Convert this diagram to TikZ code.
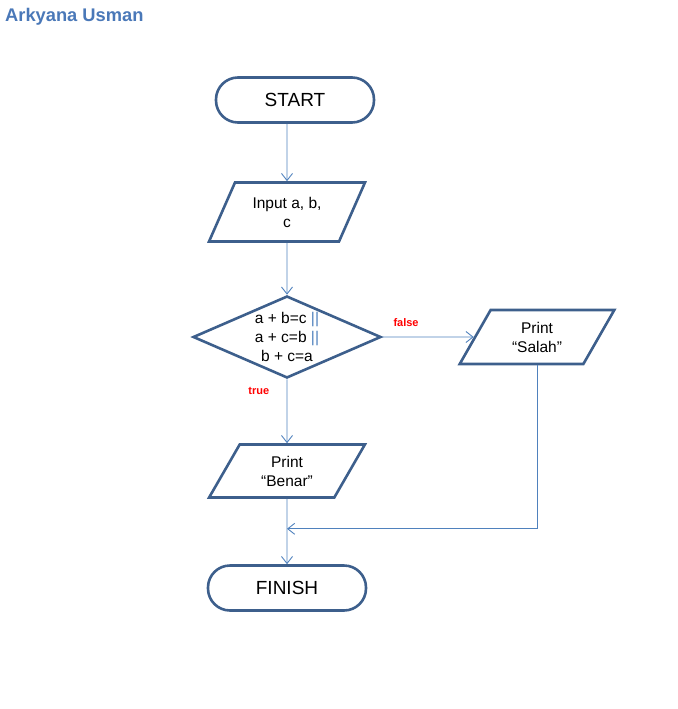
\documentclass[tikz,border=0pt]{standalone}
\usepackage{fontspec}
\setmainfont{Liberation Sans}
\usetikzlibrary{positioning,shapes.geometric,arrows.meta}

\definecolor{shapeblue}{HTML}{3D5F8C}
\definecolor{lineblue}{HTML}{4F81BD}
\definecolor{titleblue}{HTML}{4A78B8}

\tikzset{
  terminal/.style={draw=shapeblue, line width=2.6pt, rectangle, rounded corners=22pt,
    minimum width=158pt, minimum height=45pt, font=\fontsize{19}{22}\selectfont},
  io/.style={draw=shapeblue, line width=2.6pt, trapezium, trapezium left angle=63,
    trapezium right angle=117, trapezium stretches=true, minimum width=156pt,
    align=center, font=\fontsize{15.5}{19}\selectfont},
  decision/.style={draw=shapeblue, line width=2.6pt, diamond, minimum width=188pt,
    minimum height=82pt, inner sep=0pt},
  flow/.style={draw=lineblue, line width=0.9pt, ->},
  branch/.style={text=red, font=\bfseries\fontsize{11}{13}\selectfont}
}

\begin{document}
\begin{tikzpicture}[x=1pt, y=1pt, >={Straight Barb[length=7pt,width=11pt]}, on grid]
  \useasboundingbox (0,0) rectangle (677,-709);

  \node[anchor=west, inner sep=0pt, text=titleblue, font=\bfseries\fontsize{18.3}{20}\selectfont] (title) at (5,-17) {Arkyana Usman};

  \node[terminal] (start) at (295,-100) {START};
  \node[io, minimum height=59pt, below=112pt of start, xshift=-8pt] (input) {Input a, b,\\c};
  \node[decision, below=125pt of input,
    label={[align=center, font=\fontsize{15.5}{19}\selectfont]center:a + b=c {\color{lineblue}||}\\a + c=b {\color{lineblue}||}\\b + c=a}] (cek) {};
  \node[io, minimum height=54pt, right=250pt of cek] (salah) {Print\\``Salah''};
  \node[io, minimum height=53pt, below=134pt of cek] (benar) {Print\\``Benar''};
  \node[terminal, below=117pt of benar] (finish) {FINISH};
  \coordinate[below=30pt of benar.south] (merge);

  % arrows
  \draw[flow] (input |- start.south) -- (input.north);
  \draw[flow] (input) -- (cek);
  \draw[flow] (cek.east) -- node[pos=0.26, above=7pt, branch] {false} (salah.west);
  \draw[flow] (cek.south) -- node[pos=0.18, left=14pt, branch] {true} (benar.north);
  \draw[flow] (benar) -- (finish);
  \draw[flow] (salah.south) |- (merge);
\end{tikzpicture}
\end{document}
